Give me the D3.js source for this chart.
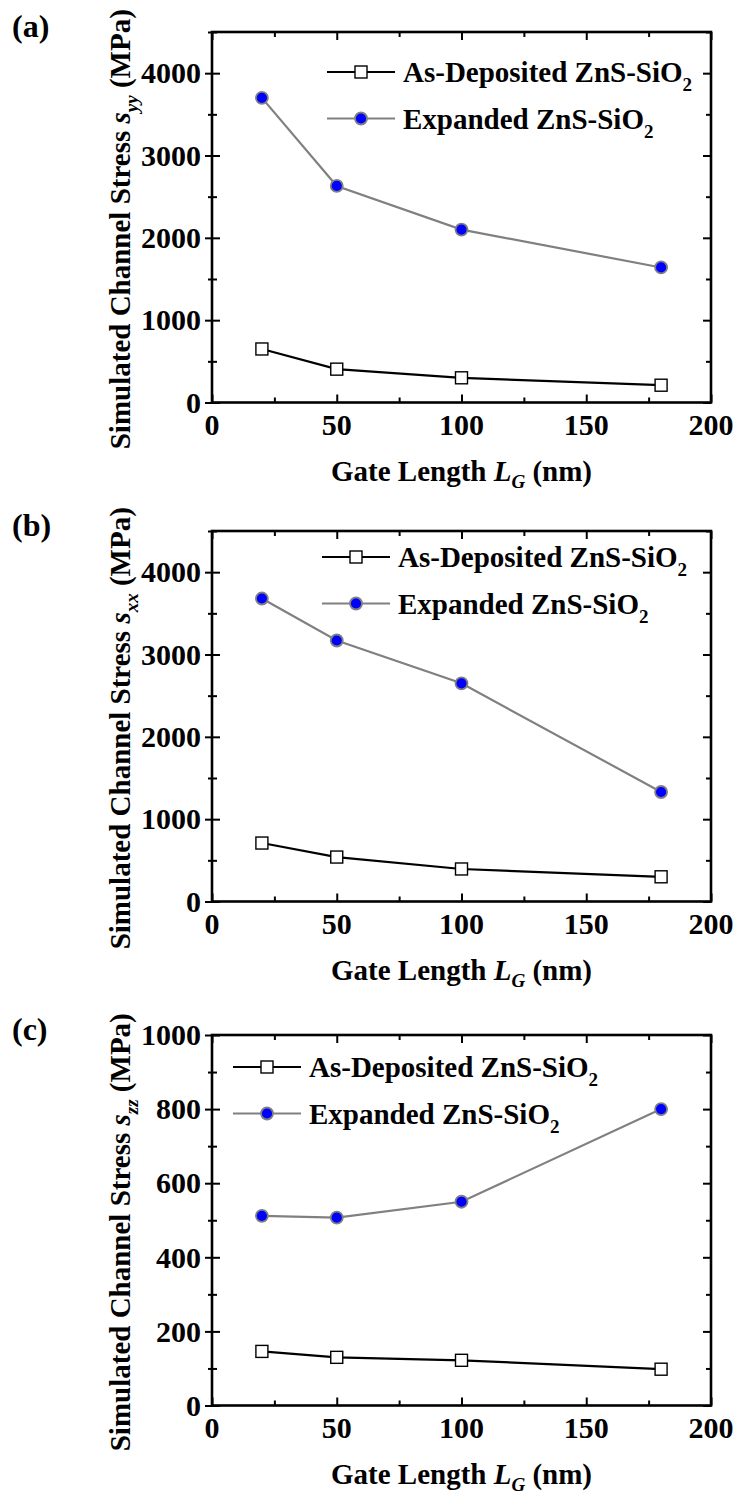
<!DOCTYPE html>
<html>
<head>
<meta charset="utf-8">
<script src="https://cdn.jsdelivr.net/npm/d3@7/dist/d3.min.js"></script>
<style>
  html, body { margin: 0; padding: 0; background: #fff; }
</style>
</head>
<body>
<svg id="fig" width="736" height="1495"></svg>
<script>
// Gate lengths (nm) simulated for each device
const gateLengths = [20, 50, 100, 180];

// Channel stress (MPa), sigma_yy
const syyAsDeposited = [650, 405, 300, 210];
const syyExpanded = [3700, 2630, 2100, 1640];

// Channel stress (MPa), sigma_xx
const sxxAsDeposited = [710, 540, 395, 300];
const sxxExpanded = [3680, 3170, 2650, 1330];

// Channel stress (MPa), sigma_zz
const szzAsDeposited = [146, 130, 122, 98];
const szzExpanded = [512, 507, 550, 800];

// Tick labels
const xTickValues = [0, 50, 100, 150, 200];
const yTicksLarge = [0, 1000, 2000, 3000, 4000];
const yTicksSmall = [0, 200, 400, 600, 800, 1000];

const seriesNames = ["As-Deposited ZnS-SiO", "Expanded ZnS-SiO"];
const panelLetters = ["(a)", "(b)", "(c)"];
const stressSubscripts = ["yy", "xx", "zz"];

const serif = "Times New Roman, Liberation Serif, Tinos, Times, serif";
const svg = d3.select("#fig")
  .style("font-family", serif)
  .style("font-weight", "bold");

const panels = [
  { letter: panelLetters[0], sub: stressSubscripts[0], asDep: syyAsDeposited, exp: syyExpanded,
    yMax: 4500, yTicks: yTicksLarge, yMinor: 500, top: 32, legend: { x: 327, y: 72 } },
  { letter: panelLetters[1], sub: stressSubscripts[1], asDep: sxxAsDeposited, exp: sxxExpanded,
    yMax: 4500, yTicks: yTicksLarge, yMinor: 500, top: 531, legend: { x: 322, y: 557 } },
  { letter: panelLetters[2], sub: stressSubscripts[2], asDep: szzAsDeposited, exp: szzExpanded,
    yMax: 1000, yTicks: yTicksSmall, yMinor: 100, top: 1035, legend: { x: 233, y: 1067 } }
];

const left = 212, right = 711, plotH = 370.5;
const fontSize = 29;
const tickSize = 30;
const subSize = 19;

function txt(sel) {
  return sel.style("font-family", serif).style("font-weight", "bold");
}

panels.forEach(p => {
  const bottom = p.top + plotH;
  const x = d3.scaleLinear().domain([0, 200]).range([left, right]);
  const y = d3.scaleLinear().domain([0, p.yMax]).range([bottom, p.top]);
  const g = svg.append("g");

  const minorX = d3.range(0, 201, 25);
  const minorY = d3.range(0, p.yMax + 1, p.yMinor);

  // bottom axis: ticks point inward
  const bottomAxis = g.append("g").attr("transform", `translate(0,${bottom})`)
    .call(d3.axisBottom(x).tickValues(minorX).tickSize(0).tickFormat(""));
  bottomAxis.select(".domain").remove();
  bottomAxis.selectAll(".tick line")
    .attr("y2", d => xTickValues.includes(d) ? -8 : -5)
    .attr("stroke", "#000").attr("stroke-width", 2);
  g.append("g").selectAll("text").data(xTickValues).join("text")
    .call(txt)
    .attr("x", d => x(d)).attr("y", bottom + 32)
    .attr("text-anchor", "middle").attr("font-size", tickSize)
    .text(d => d);

  // top axis mirror
  const topAxis = g.append("g").attr("transform", `translate(0,${p.top})`)
    .call(d3.axisTop(x).tickValues(minorX).tickSize(0).tickFormat(""));
  topAxis.select(".domain").remove();
  topAxis.selectAll(".tick line")
    .attr("y2", d => xTickValues.includes(d) ? 8 : 5)
    .attr("stroke", "#000").attr("stroke-width", 2);

  // left axis: ticks cross the frame
  const leftAxis = g.append("g").attr("transform", `translate(${left},0)`)
    .call(d3.axisLeft(y).tickValues(minorY).tickSize(0).tickFormat(""));
  leftAxis.select(".domain").remove();
  leftAxis.selectAll(".tick line")
    .attr("x1", d => p.yTicks.includes(d) ? -7 : -4)
    .attr("x2", d => p.yTicks.includes(d) ? 8 : 5)
    .attr("stroke", "#000").attr("stroke-width", 2);
  g.append("g").selectAll("text").data(p.yTicks).join("text")
    .call(txt)
    .attr("x", left - 11).attr("y", d => y(d)).attr("dy", "0.34em")
    .attr("text-anchor", "end").attr("font-size", tickSize)
    .text(d => d);

  // right axis mirror
  const rightAxis = g.append("g").attr("transform", `translate(${right},0)`)
    .call(d3.axisRight(y).tickValues(minorY).tickSize(0).tickFormat(""));
  rightAxis.select(".domain").remove();
  rightAxis.selectAll(".tick line")
    .attr("x2", d => p.yTicks.includes(d) ? -8 : -5)
    .attr("stroke", "#000").attr("stroke-width", 2);

  // frame
  g.append("rect")
    .attr("x", left).attr("y", p.top)
    .attr("width", right - left).attr("height", plotH)
    .attr("fill", "none").attr("stroke", "#000").attr("stroke-width", 2.6);

  // series
  const line = d3.line().x((d, i) => x(gateLengths[i])).y(d => y(d));
  g.append("path").datum(p.exp).attr("d", line)
    .attr("fill", "none").attr("stroke", "#808080").attr("stroke-width", 2.2);
  g.append("path").datum(p.asDep).attr("d", line)
    .attr("fill", "none").attr("stroke", "#000").attr("stroke-width", 2.2);

  g.append("g").selectAll("circle").data(p.exp).join("circle")
    .attr("cx", (d, i) => x(gateLengths[i])).attr("cy", d => y(d)).attr("r", 6)
    .attr("fill", "#0000ff").attr("stroke", "#808080").attr("stroke-width", 1.8);
  g.append("g").selectAll("rect").data(p.asDep).join("rect")
    .attr("x", (d, i) => x(gateLengths[i]) - 6).attr("y", d => y(d) - 6)
    .attr("width", 12).attr("height", 12)
    .attr("fill", "#fff").attr("stroke", "#000").attr("stroke-width", 1.4);

  // legend
  const lg = g.append("g");
  const rowGap = 46.5;
  [0, 1].forEach(k => {
    const ly = p.legend.y + k * rowGap;
    const lx = p.legend.x;
    lg.append("line").attr("x1", lx).attr("x2", lx + 68).attr("y1", ly).attr("y2", ly)
      .attr("stroke", k === 0 ? "#000" : "#808080").attr("stroke-width", 2.2);
    if (k === 0) {
      lg.append("rect").attr("x", lx + 34 - 6).attr("y", ly - 6).attr("width", 12).attr("height", 12)
        .attr("fill", "#fff").attr("stroke", "#000").attr("stroke-width", 1.4);
    } else {
      lg.append("circle").attr("cx", lx + 34).attr("cy", ly).attr("r", 6)
        .attr("fill", "#0000ff").attr("stroke", "#808080").attr("stroke-width", 1.8);
    }
    const t = lg.append("text").call(txt).attr("x", lx + 76).attr("y", ly + 10).attr("font-size", fontSize);
    t.append("tspan").text(seriesNames[k]);
    t.append("tspan").attr("font-size", subSize).attr("dy", 9).text("2");
  });

  // x axis title
  const xt = g.append("text").call(txt).attr("x", (left + right) / 2).attr("y", bottom + 78)
    .attr("text-anchor", "middle").attr("font-size", fontSize);
  xt.append("tspan").text("Gate Length ");
  xt.append("tspan").attr("font-style", "italic").text("L");
  xt.append("tspan").attr("font-style", "italic").attr("font-size", subSize).attr("dy", 7).text("G");
  xt.append("tspan").attr("dy", -7).text(" (nm)");

  // y axis title
  const cy = (p.top + bottom) / 2 + 12;
  const yt = g.append("text").call(txt).attr("transform", `translate(130,${cy}) rotate(-90)`)
    .attr("text-anchor", "middle").attr("font-size", fontSize);
  yt.append("tspan").text("Simulated Channel Stress ");
  yt.append("tspan").attr("font-style", "italic").text("s");
  yt.append("tspan").attr("font-style", "italic").attr("font-size", subSize).attr("dy", 8).text(p.sub);
  yt.append("tspan").attr("dy", -8).text(" (MPa)");

  // panel letter
  g.append("text").call(txt).attr("x", 12).attr("y", p.top + 5).attr("font-size", 32).text(p.letter);
});
</script>
</body>
</html>
